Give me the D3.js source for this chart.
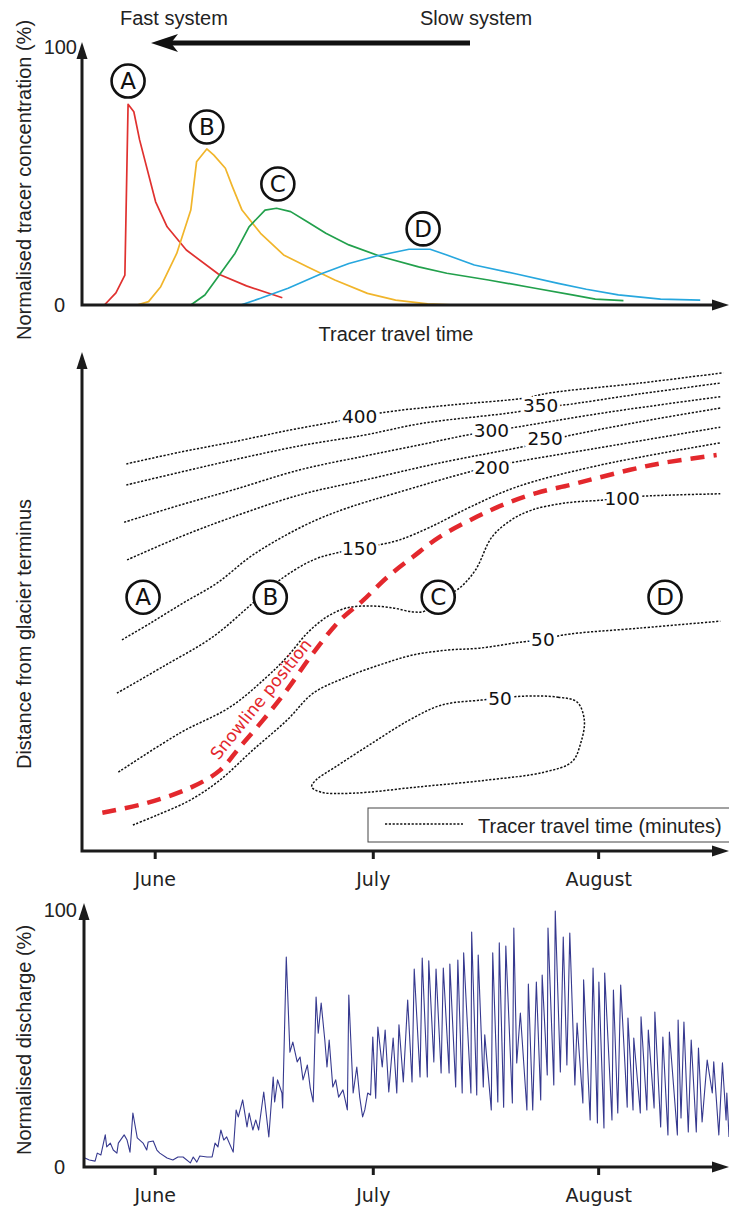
<!DOCTYPE html>
<html>
<head>
<meta charset="utf-8">
<script src="https://cdn.jsdelivr.net/npm/d3@7"></script>
<style>
  body { margin: 0; background: #fff; }
  svg { display: block; }
</style>
</head>
<body>
<div id="chart"></div>
<script>
// ---------- data ----------
// top panel: normalised tracer concentration (%) against tracer travel time (arbitrary units 0-100)
const curveA = [[3.5,0],[5.3,4.7],[6.7,11.6],[7.2,77.8],[8.1,74.9],[9.0,64],[11.5,40],[13.3,30.3],[16.3,21.3],[21.3,12],[25.7,7.4],[31.3,2.8]];
const curveB = [[8.6,0],[10.4,1.3],[12.3,7.1],[14.8,20],[17.0,36.8],[17.9,55.5],[19.5,60.5],[20.6,58.1],[22.4,53],[23.5,45.9],[25.0,36.8],[27.9,27.8],[31.5,19.4],[35.2,14.8],[39.5,9.7],[44.6,4.5],[49,1.9],[54,0.4],[58.4,0]];
const curveC = [[17.0,0],[19.2,3.9],[21.3,11],[23.9,20],[26.1,30.3],[28.6,36.8],[30.4,37.5],[32.6,36.2],[35.2,32.3],[38.1,27.8],[41.7,23.3],[46.8,18.7],[52.6,14.8],[57,12.3],[63.5,9.7],[70.8,6.5],[76.6,3.9],[80.2,2.3],[84.6,1.7]];
const curveD = [[24.8,0],[27.9,2.6],[32.2,6.5],[37.3,12],[41.7,16.1],[46,19],[51.1,21.6],[54.4,21.6],[57,19.4],[61.3,15.5],[67.9,12],[74.4,8.4],[78.8,6.1],[83.8,3.9],[90.4,2.3],[96.6,1.9]];
const siteNames = ['A', 'B', 'C', 'D'];
const siteColors = ['#e0312f', '#f1b52b', '#22a04c', '#27a7de'];
const peakLabelTime = [7.2, 19.5, 30.6, 53.3];
const peakLabelConc = [86.8, 69, 46.9, 29.5];
const concTicks = [0, 100];

// middle panel: tracer travel time contours (minutes), [days since 1 June, distance 0-100]
const c400 = [[-3.9,79.0],[3.5,81.4],[10.8,83.5],[18.6,85.9],[25.5,87.8],[31.0,89.4],[40.6,91.0],[50.7,92.4],[54.4,93.5],[66.8,95.5],[78.2,97.6]];
const c350 = [[-3.9,74.7],[3.5,77.3],[10.8,79.8],[20.0,82.7],[28.9,84.9],[36.9,87.3],[49.8,89.6],[53.1,90.6],[56.2,91.0],[66.8,93.3],[77.8,95.5]];
const c300 = [[-4.2,67.1],[3.5,70.6],[10.8,73.7],[20.0,77.8],[28.9,80.6],[36.5,82.9],[43.0,84.9],[46.3,85.7],[48.9,86.3],[62.6,89.6],[77.8,92.7]];
const c250 = [[-3.8,59.4],[3.5,64.1],[10.8,68.2],[20.0,72.7],[28.9,75.7],[39.2,79.2],[50.3,82.4],[53.7,83.5],[56.2,84.5],[66.8,87.6],[77.8,90.4]];
const c200 = [[-4.5,43.1],[-0.6,46.5],[3.9,50.6],[8.6,54.7],[13.1,60.0],[17.6,64.1],[22.3,67.6],[26.9,70.2],[33.3,73.1],[43.1,77.3],[46.4,78.4],[48.9,79.2],[60.8,82.2],[77.8,86.5]];
const c150 = [[-5.2,32.2],[1.1,37.6],[8.0,43.7],[13.5,50.6],[17.2,55.3],[21.8,59.4],[25.5,61.0],[28.2,61.8],[30.6,62.4],[33.7,63.5],[37.9,66.1],[43.4,70.2],[49.8,74.3],[60.8,78.6],[77.8,83.3]];
const c100 = [[-5.0,16.1],[3.5,24.1],[10.4,29.4],[15.4,35.5],[18.2,39.6],[21.0,44.5],[23.7,47.8],[26.4,49.6],[29.6,50.0],[32.8,49.6],[35.5,48.8],[37.2,49.0],[39.0,51.8],[41.6,53.3],[44.1,57.3],[46.4,64.1],[49.1,67.6],[51.9,69.6],[56.4,71.0],[61.5,71.6],[64.3,72.0],[67.0,72.4],[77.8,72.9]];
const c50 = [[-3.0,5.3],[0.3,7.3],[4.9,10.4],[9.0,14.5],[13.5,20.6],[18.2,26.7],[21.8,32.2],[26.4,35.5],[31.0,38.0],[35.5,40.0],[40.2,41.0],[44.7,41.4],[50.7,42.7],[53.4,43.1],[56.2,44.1],[66.8,45.5],[77.8,46.9]];
const c50loop = [[50.7,31.6],[55.5,31.4],[58.1,30.4],[59.1,26.7],[58.6,22.0],[57.4,18.2],[53.6,16.1],[45.9,14.5],[36.4,13.1],[27.3,11.8],[22.9,12.0],[21.6,13.1],[22.2,14.5],[24.8,17.1],[29.9,22.0],[35.0,26.7],[39.5,29.8],[44.9,30.8],[47.5,31.2]];
const contourMinutes = [400, 350, 300, 250, 200, 150, 100, 50, 50];
const contourLabelDay = [28.2, 53.1, 46.3, 53.7, 46.4, 28.2, 64.3, 53.4, 47.5];
const contourLabelDist = [88.8, 91.0, 85.9, 84.3, 78.4, 61.8, 72.0, 43.1, 31.2];
const snowline = [[-7.2,7.8],[-1.1,9.8],[4.9,12.9],[9.0,16.5],[11.7,21.2],[14.9,26.7],[18.2,32.9],[21.8,40.4],[25.5,47.1],[28.7,51.2],[32.0,55.9],[35.5,60.0],[39.2,64.1],[44.3,68.2],[48.5,71.0],[52.6,73.1],[57.1,74.7],[60.8,76.1],[65.4,77.8],[69.9,79.2],[77.3,80.8]];
const siteDays = [-1.6, 15.9, 39.0, 70.2];
const siteDist = 51.8;
const monthNames = ['June', 'July', 'August'];
const monthStartDays = [0, 30, 61];

// bottom panel: normalised discharge (%), [days since 1 June, %]
const discharge = [[-9.6,3.5],[-9.0,2.7],[-8.2,2.3],[-7.9,5.4],[-7.4,4.7],[-6.8,12.5],[-6.6,7.8],[-6.1,9.3],[-5.7,6.6],[-5.2,5.4],[-5.0,9.3],[-4.2,12.5],[-3.8,10.5],[-3.4,5.8],[-3.0,21],[-2.4,11.3],[-1.6,9.3],[-1.1,6.6],[-0.9,9.7],[-0.2,10.1],[0.3,6.6],[0.7,5.4],[1.7,3.5],[2.5,2.7],[3.2,3.9],[3.9,3.9],[4.9,1.6],[5.3,3.9],[5.8,1.9],[6.2,4.3],[7.2,3.9],[7.9,3.9],[8.3,9.3],[8.7,7.8],[9.1,14.4],[9.5,10.5],[9.9,11.7],[10.8,5.8],[11.2,22.2],[11.5,19.5],[12.1,26.1],[12.7,15.6],[13.0,21],[13.5,14.4],[13.9,18.3],[14.3,14.4],[15.0,29.2],[15.7,11.7],[16.3,35],[16.5,25.3],[16.9,33.9],[17.5,28.8],[17.6,23],[18.1,81.7],[18.6,44.7],[19.0,48.6],[19.6,40.9],[20.0,42.8],[20.4,33.9],[21.0,39.7],[21.4,30.7],[21.8,25.3],[22.2,66.1],[22.5,52.1],[22.9,63.8],[23.4,49.4],[23.7,38.9],[24.0,49.4],[24.5,31.1],[24.9,33.9],[25.3,27.2],[25.9,30],[26.5,22.2],[26.7,66.9],[27.3,28.8],[27.8,38.9],[28.2,27.2],[28.6,19.5],[28.9,22.2],
  [29.3,28.8],[29.7,28],[30.0,50.6],[30.4,26.8],[30.7,54.5],[31.3,38.9],[31.7,53.3],[32.2,29.2],[32.8,50.2],[33.3,28.8],[33.6,55.3],[34.2,33.1],[34.8,65],[35.4,33.1],[35.7,77],[36.5,35],[36.8,81.3],[37.5,35],[37.7,80.2],[38.4,40.9],[38.7,77],[39.4,36.6],[39.7,77.4],[40.5,36.6],[40.6,79],[41.4,31.1],[41.7,80.5],[42.3,28.8],[42.5,83.3],[43.5,28.8],[43.6,91.4],[44.3,28],[44.5,82.5],[45.2,31.1],[45.4,51.4],[46.3,22.2],[46.5,83.3],[47.2,25.3],[47.4,87.2],[48.0,23.3],[48.3,86],[49.2,24.9],[49.4,93],[49.8,40.5],[50.3,59.9],[51.2,22.2],[51.4,71.2],[52.0,22.2],[52.5,72],[53.1,26.1],[53.3,74.7],[54.0,35.8],[54.1,93],[54.9,31.9],[55.1,99.6],[55.8,37],[56.2,89.5],[56.7,39.7],[57.1,91],[57.8,31.9],[58.1,56],[58.9,24.9],[59.0,72.8],[59.9,18.3],[60.3,77.4],[60.9,17.1],[61.1,72],[61.8,15.2],[61.9,75.5],[62.9,18.3],[63.1,68.9],[63.7,21],[64.1,70.8],[65.0,23.3],[65.1,58],[65.8,22.2],[65.9,50.2],[66.8,21],[66.9,58.4],[67.7,22.2],[67.9,53.3],[68.7,23],[68.8,60.3],[69.6,15.6],[69.9,50.6],[70.6,12.5],[70.8,52.5],[71.9,12.5],[72.0,57.2],[72.4,19.1],[72.8,56.4],[73.4,13.6],[73.8,49.4],[74.5,13.6],[74.8,46.3],[75.3,17.5],[76.0,41.6],[76.7,28.8],[76.9,40.9],[77.6,12.5],[78.1,40.5],[78.6,18.3],[78.7,28.8],[79.0,11.7]];
const dischargeTicks = [0, 100];

// ---------- setup ----------
const W = 729, H = 1209;
const axisColor = '#1b1b1b';
const svg = d3.select('#chart').append('svg').attr('width', W).attr('height', H);

const june1 = Date.UTC(2013, 5, 1);
const dayToDate = d => new Date(june1 + d * 864e5);

// scales
const xTravel = d3.scaleLinear().domain([0, 100]).range([82, 722]);
const yConc = d3.scaleLinear().domain([0, 100]).range([305, 47]);
const xDay = d3.scaleUtc().domain([dayToDate(-10), dayToDate(79)]).range([82, 729]);
const yDist = d3.scaleLinear().domain([0, 100]).range([851, 361]);
const yQ = d3.scaleLinear().domain([0, 100]).range([1167, 910]);

// L-shaped axis with arrowheads
function frame(x0, yBottom, yTop, xRight) {
  svg.append('path')
    .attr('d', `M${x0},${yTop + 12}V${yBottom}H${xRight - 12}`)
    .attr('fill', 'none').attr('stroke', axisColor).attr('stroke-width', 3);
  svg.append('path')
    .attr('d', `M${x0},${yTop}L${x0 - 5.5},${yTop + 17}L${x0 + 5.5},${yTop + 17}Z`)
    .attr('fill', axisColor);
  svg.append('path')
    .attr('d', `M${xRight},${yBottom}L${xRight - 17},${yBottom - 5.5}L${xRight - 17},${yBottom + 5.5}Z`)
    .attr('fill', axisColor);
}

function yTitle(text, cy) {
  svg.append('text')
    .attr('transform', `translate(31,${cy}) rotate(-90)`)
    .attr('text-anchor', 'middle')
    .attr('font-family', 'Liberation Sans, Arial, sans-serif')
    .attr('font-size', 20).attr('fill', '#222')
    .text(text);
}

function yTickLabels(scale, ticks) {
  const g = svg.append('g').attr('transform', 'translate(82,0)')
    .call(d3.axisLeft(scale).tickValues(ticks).tickSize(0).tickPadding(5));
  g.select('.domain').remove();
  g.selectAll('text')
    .attr('font-family', 'Liberation Sans, Arial, sans-serif')
    .attr('font-size', 20).attr('fill', '#222')
    .attr('x', d => d === 0 ? -17 : -5);
}

function monthAxis(yPos) {
  const g = svg.append('g').attr('transform', `translate(0,${yPos})`)
    .call(d3.axisBottom(xDay)
      .tickValues(monthStartDays.map(dayToDate))
      .tickFormat((d, i) => monthNames[i])
      .tickSize(8).tickPadding(14));
  g.select('.domain').remove();
  g.selectAll('.tick line').attr('stroke', axisColor).attr('stroke-width', 3);
  g.selectAll('.tick text')
    .attr('font-family', 'DejaVu Sans, Verdana, sans-serif')
    .attr('font-size', 19).attr('fill', '#222');
}

function siteCircle(cx, cy, name) {
  const g = svg.append('g').attr('transform', `translate(${cx},${cy})`);
  g.append('circle').attr('r', 16.5).attr('fill', '#fff')
    .attr('stroke', '#111').attr('stroke-width', 2.6);
  g.append('text').attr('text-anchor', 'middle').attr('dy', '0.36em')
    .attr('font-family', 'DejaVu Sans, Verdana, sans-serif')
    .attr('font-size', 23).attr('fill', '#111')
    .text(name);
}

// ---------- top panel ----------
const concLine = d3.line().x(d => xTravel(d[0])).y(d => yConc(d[1]));
[curveA, curveB, curveC, curveD].forEach((c, i) => {
  svg.append('path').datum(c)
    .attr('d', concLine)
    .attr('fill', 'none').attr('stroke', siteColors[i])
    .attr('stroke-width', 1.7).attr('stroke-linejoin', 'round');
});
frame(82, 305, 42, 729);
yTickLabels(yConc, concTicks);
yTitle('Normalised tracer concentration (%)', 180);
siteNames.forEach((n, i) => siteCircle(xTravel(peakLabelTime[i]), yConc(peakLabelConc[i]), n));

svg.append('text').attr('x', 396).attr('y', 341).attr('text-anchor', 'middle')
  .attr('font-family', 'Liberation Sans, Arial, sans-serif').attr('font-size', 20).attr('fill', '#222')
  .text('Tracer travel time');
svg.append('text').attr('x', 120).attr('y', 25)
  .attr('font-family', 'Liberation Sans, Arial, sans-serif').attr('font-size', 20).attr('fill', '#222')
  .text('Fast system');
svg.append('text').attr('x', 420).attr('y', 25)
  .attr('font-family', 'Liberation Sans, Arial, sans-serif').attr('font-size', 20).attr('fill', '#222')
  .text('Slow system');
// fast <- slow arrow
svg.append('line').attr('x1', 470).attr('x2', 168).attr('y1', 43).attr('y2', 43)
  .attr('stroke', '#111').attr('stroke-width', 5);
svg.append('path').attr('d', 'M151,43L178,34L171,43L178,52Z').attr('fill', '#111');

// ---------- middle panel ----------
const contourPath = d3.line().curve(d3.curveCatmullRom.alpha(0.5))
  .x(d => xDay(dayToDate(d[0]))).y(d => yDist(d[1]));
const loopPath = d3.line().curve(d3.curveCatmullRomClosed.alpha(0.5))
  .x(d => xDay(dayToDate(d[0]))).y(d => yDist(d[1]));

[c400, c350, c300, c250, c200, c150, c100, c50].forEach(c => {
  svg.append('path').datum(c).attr('d', contourPath)
    .attr('fill', 'none').attr('stroke', '#111')
    .attr('stroke-width', 1.5).attr('stroke-dasharray', '2.2 1.6');
});
svg.append('path').datum(c50loop).attr('d', loopPath)
  .attr('fill', 'none').attr('stroke', '#111')
  .attr('stroke-width', 1.5).attr('stroke-dasharray', '2.2 1.6');

// snowline
svg.append('path').datum(snowline).attr('d', contourPath)
  .attr('fill', 'none').attr('stroke', '#e3282d')
  .attr('stroke-width', 4.5).attr('stroke-dasharray', '14 9');

svg.append('text')
  .attr('transform', `translate(${xDay(dayToDate(14.6))},${yDist(31.0)}) rotate(-51)`)
  .attr('text-anchor', 'middle').attr('dy', '0.35em')
  .attr('font-family', 'DejaVu Sans, Verdana, sans-serif').attr('font-size', 17)
  .attr('fill', '#e3282d')
  .text('Snowline position');

// contour labels with white halo
contourMinutes.forEach((m, i) => {
  svg.append('text')
    .attr('x', xDay(dayToDate(contourLabelDay[i])))
    .attr('y', yDist(contourLabelDist[i]))
    .attr('dy', '0.36em').attr('text-anchor', 'middle')
    .attr('font-family', 'DejaVu Sans, Verdana, sans-serif').attr('font-size', 18.5)
    .attr('fill', '#111').attr('stroke', '#fff').attr('stroke-width', 6)
    .attr('paint-order', 'stroke')
    .text(m);
});

siteNames.forEach((n, i) => siteCircle(xDay(dayToDate(siteDays[i])), yDist(siteDist), n));

// legend
const legend = svg.append('g').attr('transform', 'translate(368,808)');
legend.append('rect').attr('width', 400).attr('height', 34)
  .attr('fill', '#fff').attr('stroke', '#444').attr('stroke-width', 1);
legend.append('line').attr('x1', 17).attr('x2', 95).attr('y1', 16).attr('y2', 16)
  .attr('stroke', '#111').attr('stroke-width', 1.5).attr('stroke-dasharray', '2.2 1.6');
legend.append('text').attr('x', 110).attr('y', 25)
  .attr('font-family', 'Liberation Sans, Arial, sans-serif').attr('font-size', 20).attr('fill', '#222')
  .text('Tracer travel time (minutes)');

frame(82, 851, 352, 729);
monthAxis(851);
yTitle('Distance from glacier terminus', 634);

// ---------- bottom panel ----------
const qLine = d3.line().x(d => xDay(dayToDate(d[0]))).y(d => yQ(d[1]));
svg.append('path').datum(discharge).attr('d', qLine)
  .attr('fill', 'none').attr('stroke', '#36398f')
  .attr('stroke-width', 1.1).attr('stroke-linejoin', 'round');
frame(84, 1167, 903, 729);
yTickLabels(yQ, dischargeTicks);
monthAxis(1167);
yTitle('Normalised discharge (%)', 1040);
</script>
</body>
</html>
